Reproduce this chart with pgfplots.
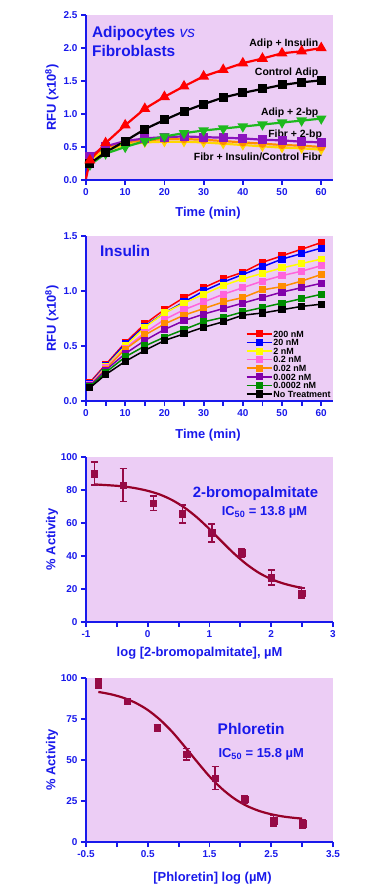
\documentclass[border=0pt]{standalone}
\usepackage{pgfplots}
\pgfplotsset{compat=1.18}
\usepackage{fontspec}
\setmainfont{Liberation Sans}
\setsansfont{Liberation Sans}
\definecolor{bgp}{RGB}{236,205,245}
\definecolor{tblue}{RGB}{25,25,235}
\definecolor{maroonc}{RGB}{150,10,70}
\definecolor{curvec}{RGB}{150,0,40}
\definecolor{pgreen}{RGB}{30,185,30}
\definecolor{ppurple}{RGB}{140,20,190}
\definecolor{porange}{RGB}{255,140,0}
\definecolor{pyellow}{RGB}{255,215,0}
\definecolor{ipink}{RGB}{255,100,220}
\definecolor{ipurple}{RGB}{130,0,170}
\definecolor{igreen}{RGB}{0,140,0}
\definecolor{iyellow}{RGB}{255,255,0}
\pgfplotsset{
 myax/.style={
  scale only axis, anchor=south west, width=247bp,
  axis background/.style={fill=bgp},
  axis x line*=bottom, axis y line*=left,
  axis line style={tblue, line width=2.5bp, -},
  tick style={tblue, line width=1.8bp},
  major tick length=5bp, minor tick length=5bp,
  tick align=outside,
  ticklabel style={font=\fontsize{10}{10}\selectfont\bfseries, text=tblue},
  /pgf/number format/assume math mode=true,
  label style={font=\fontsize{13}{14}\selectfont\bfseries, text=tblue},
 },
}
\tikzset{lbl/.style={font=\fontsize{10.5}{11}\selectfont\bfseries, text=black, anchor=east, inner sep=0pt}}
\begin{document}
\begin{tikzpicture}
\path[use as bounding box] (0,0) rectangle (367bp,894bp);

% Panel 1
\begin{axis}[myax, at={(86bp,714bp)}, height=165bp,
  xmin=0, xmax=63, ymin=0, ymax=2.5,
  xtick={0,10,20,30,40,50,60}, xticklabels={0,10,20,30,40,50,60},
  ytick={0,0.5,1,1.5,2,2.5}, yticklabels={0.0,0.5,1.0,1.5,2.0,2.5},
  xlabel={Time (min)}, ylabel={RFU (x10\textsuperscript{8})},
  xlabel style={at={(axis description cs:0.494,-0.2)}, anchor=center},
  ylabel style={at={(axis description cs:-0.1377,0.5)}, anchor=center},
  clip=false]
\addplot[pyellow, line width=2.2bp, mark=triangle*, mark size=3.5bp, mark options={rotate=180}] coordinates {(1,0.30)(5,0.45)(10,0.53)(15,0.57)(20,0.58)(25,0.58)(30,0.57)(35,0.55)(40,0.53)(45,0.51)(50,0.49)(55,0.48)(60,0.46)};
\addplot[porange, line width=2.2bp, mark=*, mark size=3bp] coordinates {(1,0.35)(5,0.49)(10,0.57)(15,0.60)(20,0.62)(25,0.62)(30,0.61)(35,0.59)(40,0.57)(45,0.55)(50,0.53)(55,0.52)(60,0.50)};
\addplot[ppurple, line width=2.2bp, mark=square*, mark size=3.4bp] coordinates {(1,0.36)(5,0.51)(10,0.59)(15,0.63)(20,0.65)(25,0.66)(30,0.65)(35,0.64)(40,0.63)(45,0.61)(50,0.60)(55,0.58)(60,0.57)};
\addplot[pgreen, line width=2.2bp, mark=triangle*, mark size=4bp, mark options={rotate=180}] coordinates {(1,0.23)(5,0.40)(10,0.50)(15,0.59)(20,0.66)(25,0.71)(30,0.75)(35,0.78)(40,0.81)(45,0.84)(50,0.87)(55,0.90)(60,0.93)};
\addplot[black, line width=2.2bp, mark=square*, mark size=3.4bp] coordinates {(1,0.25)(5,0.42)(10,0.59)(15,0.77)(20,0.91)(25,1.04)(30,1.15)(35,1.25)(40,1.32)(45,1.38)(50,1.44)(55,1.48)(60,1.51)};
\addplot[red, line width=2.2bp, mark=triangle*, mark size=4.2bp, mark indices={2,3,4,5,6,7,8,9,10,11,12,13,14}] coordinates {(0,0.02)(1,0.30)(5,0.56)(10,0.83)(15,1.08)(20,1.26)(25,1.42)(30,1.57)(35,1.67)(40,1.77)(45,1.84)(50,1.92)(55,1.95)(60,2.00)};
\node[font=\fontsize{15.5}{19}\selectfont\bfseries, text=tblue, anchor=west, align=left, inner sep=0pt] at (axis cs:1.5,2.1) {Adipocytes {\mdseries\itshape vs}\\Fibroblasts};
\node[lbl] at (axis cs:59.3,2.06) {Adip + Insulin};
\node[lbl] at (axis cs:59.3,1.62) {Control Adip};
\node[lbl] at (axis cs:59.3,1.015) {Adip + 2-bp};
\node[lbl] at (axis cs:60.25,0.68) {Fibr + 2-bp};
\node[lbl] at (axis cs:60.25,0.35) {Fibr + Insulin/Control Fibr};
\end{axis}

% Panel 2
\begin{axis}[myax, at={(86bp,493bp)}, height=165bp,
  xmin=0, xmax=63, ymin=0, ymax=1.5,
  xtick={0,10,20,30,40,50,60}, xticklabels={0,10,20,30,40,50,60},
  minor xtick={5,15,25,35,45,55},
  ytick={0,0.5,1,1.5}, yticklabels={0.0,0.5,1.0,1.5},
  xlabel={Time (min)}, ylabel={RFU (x10\textsuperscript{8})},
  xlabel style={at={(axis description cs:0.494,-0.206)}, anchor=center},
  ylabel style={at={(axis description cs:-0.1377,0.5)}, anchor=center},
  clip=false,
  every axis plot/.append style={line width=1.5bp, mark=square*, mark size=2.8bp},
  legend style={at={(0.995,0.015)}, anchor=south east, draw=none, fill=none,
    font=\fontsize{9}{9}\selectfont\bfseries, inner sep=0pt, row sep=0pt,
    nodes={inner sep=0.9pt, text height=6.6bp, text depth=0.2bp}},
  legend cell align=left,
  legend image code/.code={\draw[mark repeat=2, mark phase=2, #1] plot coordinates {(0bp,0bp) (12.5bp,0bp) (25bp,0bp)};}]
\addplot[red] coordinates {(1,0.17)(5,0.33)(10,0.53)(15,0.70)(20,0.83)(25,0.94)(30,1.03)(35,1.11)(40,1.17)(45,1.26)(50,1.32)(55,1.38)(60,1.44)};
\addlegendentry{200 nM}
\addplot[blue] coordinates {(1,0.16)(5,0.32)(10,0.52)(15,0.68)(20,0.80)(25,0.90)(30,1.00)(35,1.08)(40,1.15)(45,1.22)(50,1.29)(55,1.34)(60,1.39)};
\addlegendentry{20 nM}
\addplot[iyellow] coordinates {(1,0.15)(5,0.31)(10,0.50)(15,0.67)(20,0.80)(25,0.89)(30,0.97)(35,1.05)(40,1.11)(45,1.16)(50,1.21)(55,1.25)(60,1.29)};
\addlegendentry{2 nM}
\addplot[ipink] coordinates {(1,0.15)(5,0.30)(10,0.48)(15,0.62)(20,0.74)(25,0.83)(30,0.90)(35,0.97)(40,1.03)(45,1.09)(50,1.14)(55,1.18)(60,1.23)};
\addlegendentry{0.2 nM}
\addplot[porange] coordinates {(1,0.14)(5,0.29)(10,0.47)(15,0.60)(20,0.70)(25,0.78)(30,0.84)(35,0.90)(40,0.94)(45,1.01)(50,1.04)(55,1.09)(60,1.15)};
\addlegendentry{0.02 nM}
\addplot[ipurple] coordinates {(1,0.14)(5,0.28)(10,0.43)(15,0.55)(20,0.65)(25,0.73)(30,0.79)(35,0.84)(40,0.89)(45,0.94)(50,0.99)(55,1.03)(60,1.07)};
\addlegendentry{0.002 nM}
\addplot[igreen] coordinates {(1,0.13)(5,0.26)(10,0.40)(15,0.50)(20,0.58)(25,0.65)(30,0.72)(35,0.76)(40,0.81)(45,0.85)(50,0.89)(55,0.93)(60,0.97)};
\addlegendentry{0.0002 nM}
\addplot[black] coordinates {(1,0.12)(5,0.24)(10,0.36)(15,0.46)(20,0.55)(25,0.61)(30,0.67)(35,0.72)(40,0.78)(45,0.80)(50,0.83)(55,0.86)(60,0.88)};
\addlegendentry{No Treatment}
\node[font=\fontsize{15.5}{19}\selectfont\bfseries, text=tblue, anchor=west, inner sep=0pt] at (axis cs:3.57,1.364) {Insulin};
\end{axis}

% Panel 3
\begin{axis}[myax, at={(86bp,272bp)}, height=165bp,
  xmin=-1, xmax=3, ymin=0, ymax=100,
  xtick={-1,0,1,2,3}, xticklabels={-1,0,1,2,3},
  minor xtick={-0.5,0.5,1.5,2.5},
  ytick={0,20,40,60,80,100}, yticklabels={0,20,40,60,80,100},
  xlabel={log [2-bromopalmitate], µM}, ylabel={\% Activity},
  xlabel style={at={(axis description cs:0.46,-0.188)}, anchor=center},
  ylabel style={at={(axis description cs:-0.1377,0.5)}, anchor=center},
  clip=false]
\addplot[curvec, line width=2.2bp, smooth, no marks] coordinates {(-0.87,83.4)(-0.6,82.8)(-0.4,82.2)(-0.2,81.1)(0,79.5)(0.2,77.2)(0.4,73.8)(0.6,69.2)(0.8,63.3)(1.0,56.3)(1.2,48.7)(1.4,41.4)(1.6,35.0)(1.8,29.8)(2.0,26.0)(2.2,23.3)(2.4,21.4)(2.5,20.8)};
\addplot[maroonc, only marks, mark=square*, mark size=3.3bp,
  error bars/.cd, y dir=both, y explicit,
  error bar style={line width=1.5bp, maroonc},
  error mark options={rotate=90, mark size=3.5bp, line width=1.5bp, maroonc}]
  coordinates {(-0.865,90) +- (0,7) (-0.40,83) +- (0,10) (0.09,72) +- (0,4.5) (0.56,65.5) +- (0,5.5) (1.04,54) +- (0,5.5) (1.52,42) +- (0,2.5) (2.0,27) +- (0,4.5) (2.49,17.5) +- (0,3)};
\node[font=\fontsize{15}{16}\selectfont\bfseries, text=tblue] at (axis cs:1.745,77.6) {2-bromopalmitate};
\node[font=\fontsize{13}{14}\selectfont\bfseries, text=tblue] at (axis cs:1.89,66.7) {IC\textsubscript{50} = 13.8 µM};
\end{axis}

% Panel 4
\begin{axis}[myax, at={(86bp,52bp)}, height=164bp,
  xmin=-0.5, xmax=3.5, ymin=0, ymax=100,
  xtick={-0.5,0.5,1.5,2.5,3.5}, xticklabels={-0.5,0.5,1.5,2.5,3.5},
  minor xtick={0,1,2,3},
  ytick={0,25,50,75,100}, yticklabels={0,25,50,75,100},
  xlabel={[Phloretin] log (µM)}, ylabel={\% Activity},
  xlabel style={at={(axis description cs:0.512,-0.22)}, anchor=center},
  ylabel style={at={(axis description cs:-0.1377,0.5)}, anchor=center},
  clip=false]
\addplot[curvec, line width=2.2bp, smooth, no marks] coordinates {(-0.3,91.5)(-0.1,90.1)(0.1,88.0)(0.3,84.9)(0.5,80.5)(0.7,74.5)(0.9,67.0)(1.1,58.1)(1.3,48.9)(1.5,40.0)(1.7,32.5)(1.9,26.5)(2.1,22.1)(2.3,19.0)(2.5,16.9)(2.7,15.5)(2.9,14.6)(3.0,14.3)};
\addplot[maroonc, only marks, mark=square*, mark size=3.3bp,
  error bars/.cd, y dir=both, y explicit,
  error bar style={line width=1.5bp, maroonc},
  error mark options={rotate=90, mark size=3.5bp, line width=1.5bp, maroonc}]
  coordinates {(-0.30,96.5) +- (0,3) (0.17,85.8) +- (0,1.5) (0.65,69.5) +- (0,2) (1.13,53.5) +- (0,3.5) (1.59,39) +- (0,7) (2.07,26) +- (0,2.5) (2.54,13) +- (0,3.2) (3.01,11.2) +- (0,2.6)};
\node[font=\fontsize{15.5}{16}\selectfont\bfseries, text=tblue] at (axis cs:2.175,68.9) {Phloretin};
\node[font=\fontsize{13}{14}\selectfont\bfseries, text=tblue] at (axis cs:2.337,53.7) {IC\textsubscript{50} = 15.8 µM};
\end{axis}
\end{tikzpicture}
\end{document}
